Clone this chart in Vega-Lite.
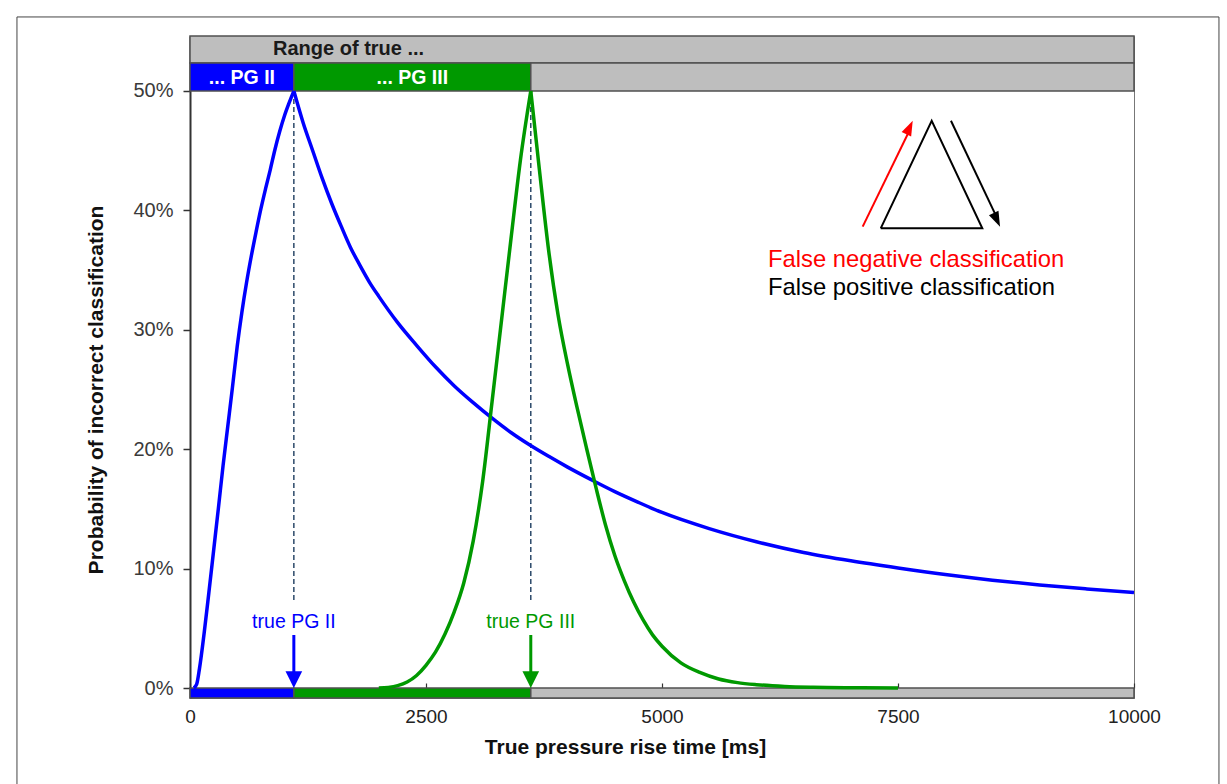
{
  "$schema": "https://vega.github.io/schema/vega-lite/v6.json",
  "width": 944,
  "height": 662,
  "autosize": {"type": "none"},
  "padding": {"left": 190, "top": 36, "right": 93, "bottom": 86},
  "background": "white",
  "config": {
    "view": {"stroke": "#777", "strokeWidth": 1},
    "font": "Liberation Sans",
    "text": {"font": "Liberation Sans"}
  },
  "datasets": {
    "curves": [
      {"group": "PG II", "branch": "rise", "t": 40, "p": 0},
      {"group": "PG II", "branch": "rise", "t": 70, "p": 0.3},
      {"group": "PG II", "branch": "rise", "t": 100, "p": 1.6},
      {"group": "PG II", "branch": "rise", "t": 150, "p": 4.6},
      {"group": "PG II", "branch": "rise", "t": 200, "p": 8.0},
      {"group": "PG II", "branch": "rise", "t": 250, "p": 11.5},
      {"group": "PG II", "branch": "rise", "t": 300, "p": 15.0},
      {"group": "PG II", "branch": "rise", "t": 350, "p": 18.6},
      {"group": "PG II", "branch": "rise", "t": 400, "p": 21.9},
      {"group": "PG II", "branch": "rise", "t": 450, "p": 25.2},
      {"group": "PG II", "branch": "rise", "t": 500, "p": 28.6},
      {"group": "PG II", "branch": "rise", "t": 550, "p": 31.5},
      {"group": "PG II", "branch": "rise", "t": 600, "p": 34.0},
      {"group": "PG II", "branch": "rise", "t": 650, "p": 36.2},
      {"group": "PG II", "branch": "rise", "t": 700, "p": 38.2},
      {"group": "PG II", "branch": "rise", "t": 750, "p": 40.1},
      {"group": "PG II", "branch": "rise", "t": 800, "p": 41.8},
      {"group": "PG II", "branch": "rise", "t": 850, "p": 43.4},
      {"group": "PG II", "branch": "rise", "t": 900, "p": 45.1},
      {"group": "PG II", "branch": "rise", "t": 950, "p": 46.6},
      {"group": "PG II", "branch": "rise", "t": 1000, "p": 47.9},
      {"group": "PG II", "branch": "rise", "t": 1050, "p": 49.0},
      {"group": "PG II", "branch": "rise", "t": 1100, "p": 50.0},
      {"group": "PG II", "branch": "fall", "t": 1100, "p": 50.0},
      {"group": "PG II", "branch": "fall", "t": 1200, "p": 47.3},
      {"group": "PG II", "branch": "fall", "t": 1300, "p": 45.0},
      {"group": "PG II", "branch": "fall", "t": 1400, "p": 42.7},
      {"group": "PG II", "branch": "fall", "t": 1500, "p": 40.6},
      {"group": "PG II", "branch": "fall", "t": 1600, "p": 38.7},
      {"group": "PG II", "branch": "fall", "t": 1700, "p": 36.9},
      {"group": "PG II", "branch": "fall", "t": 1800, "p": 35.4},
      {"group": "PG II", "branch": "fall", "t": 1900, "p": 34.0},
      {"group": "PG II", "branch": "fall", "t": 2000, "p": 32.8},
      {"group": "PG II", "branch": "fall", "t": 2200, "p": 30.6},
      {"group": "PG II", "branch": "fall", "t": 2400, "p": 28.7},
      {"group": "PG II", "branch": "fall", "t": 2600, "p": 26.9},
      {"group": "PG II", "branch": "fall", "t": 2800, "p": 25.3},
      {"group": "PG II", "branch": "fall", "t": 3000, "p": 23.9},
      {"group": "PG II", "branch": "fall", "t": 3200, "p": 22.6},
      {"group": "PG II", "branch": "fall", "t": 3400, "p": 21.4},
      {"group": "PG II", "branch": "fall", "t": 3600, "p": 20.35},
      {"group": "PG II", "branch": "fall", "t": 3800, "p": 19.4},
      {"group": "PG II", "branch": "fall", "t": 4000, "p": 18.5},
      {"group": "PG II", "branch": "fall", "t": 4250, "p": 17.45},
      {"group": "PG II", "branch": "fall", "t": 4500, "p": 16.45},
      {"group": "PG II", "branch": "fall", "t": 4750, "p": 15.55},
      {"group": "PG II", "branch": "fall", "t": 5000, "p": 14.7},
      {"group": "PG II", "branch": "fall", "t": 5500, "p": 13.35},
      {"group": "PG II", "branch": "fall", "t": 6000, "p": 12.25},
      {"group": "PG II", "branch": "fall", "t": 6500, "p": 11.35},
      {"group": "PG II", "branch": "fall", "t": 7000, "p": 10.65},
      {"group": "PG II", "branch": "fall", "t": 7500, "p": 10.05},
      {"group": "PG II", "branch": "fall", "t": 8000, "p": 9.5},
      {"group": "PG II", "branch": "fall", "t": 8500, "p": 9.03},
      {"group": "PG II", "branch": "fall", "t": 9000, "p": 8.63},
      {"group": "PG II", "branch": "fall", "t": 9500, "p": 8.3},
      {"group": "PG II", "branch": "fall", "t": 10000, "p": 8.0},
      {"group": "PG III", "branch": "rise", "t": 2000, "p": 0},
      {"group": "PG III", "branch": "rise", "t": 2100, "p": 0.05},
      {"group": "PG III", "branch": "rise", "t": 2200, "p": 0.2},
      {"group": "PG III", "branch": "rise", "t": 2300, "p": 0.5},
      {"group": "PG III", "branch": "rise", "t": 2400, "p": 1.05},
      {"group": "PG III", "branch": "rise", "t": 2500, "p": 1.9},
      {"group": "PG III", "branch": "rise", "t": 2600, "p": 3.0},
      {"group": "PG III", "branch": "rise", "t": 2700, "p": 4.5},
      {"group": "PG III", "branch": "rise", "t": 2800, "p": 6.4},
      {"group": "PG III", "branch": "rise", "t": 2900, "p": 8.8},
      {"group": "PG III", "branch": "rise", "t": 3000, "p": 12.3},
      {"group": "PG III", "branch": "rise", "t": 3100, "p": 17.3},
      {"group": "PG III", "branch": "rise", "t": 3200, "p": 24.0},
      {"group": "PG III", "branch": "rise", "t": 3300, "p": 30.8},
      {"group": "PG III", "branch": "rise", "t": 3400, "p": 37.6},
      {"group": "PG III", "branch": "rise", "t": 3500, "p": 44.2},
      {"group": "PG III", "branch": "rise", "t": 3610, "p": 50.0},
      {"group": "PG III", "branch": "fall", "t": 3610, "p": 50.0},
      {"group": "PG III", "branch": "fall", "t": 3700, "p": 43.5},
      {"group": "PG III", "branch": "fall", "t": 3800, "p": 36.6},
      {"group": "PG III", "branch": "fall", "t": 3900, "p": 31.2},
      {"group": "PG III", "branch": "fall", "t": 4000, "p": 27.1},
      {"group": "PG III", "branch": "fall", "t": 4100, "p": 23.5},
      {"group": "PG III", "branch": "fall", "t": 4200, "p": 20.1},
      {"group": "PG III", "branch": "fall", "t": 4300, "p": 16.8},
      {"group": "PG III", "branch": "fall", "t": 4400, "p": 13.7},
      {"group": "PG III", "branch": "fall", "t": 4500, "p": 11.1},
      {"group": "PG III", "branch": "fall", "t": 4600, "p": 9.0},
      {"group": "PG III", "branch": "fall", "t": 4700, "p": 7.2},
      {"group": "PG III", "branch": "fall", "t": 4800, "p": 5.7},
      {"group": "PG III", "branch": "fall", "t": 4900, "p": 4.45},
      {"group": "PG III", "branch": "fall", "t": 5000, "p": 3.5},
      {"group": "PG III", "branch": "fall", "t": 5200, "p": 2.1},
      {"group": "PG III", "branch": "fall", "t": 5400, "p": 1.3},
      {"group": "PG III", "branch": "fall", "t": 5600, "p": 0.75},
      {"group": "PG III", "branch": "fall", "t": 5800, "p": 0.45},
      {"group": "PG III", "branch": "fall", "t": 6000, "p": 0.28},
      {"group": "PG III", "branch": "fall", "t": 6300, "p": 0.13},
      {"group": "PG III", "branch": "fall", "t": 6600, "p": 0.06},
      {"group": "PG III", "branch": "fall", "t": 7000, "p": 0.02},
      {"group": "PG III", "branch": "fall", "t": 7500, "p": 0}
    ],
    "bands": [
      {"tier": "header", "group": "other", "start": 0, "end": 10000},
      {"tier": "upper", "group": "PG II", "start": 0, "end": 1100},
      {"tier": "upper", "group": "PG III", "start": 1100, "end": 3610},
      {"tier": "upper", "group": "other", "start": 3610, "end": 10000},
      {"tier": "lower", "group": "PG II", "start": 0, "end": 1100},
      {"tier": "lower", "group": "PG III", "start": 1100, "end": 3610},
      {"tier": "lower", "group": "other", "start": 3610, "end": 10000}
    ],
    "bandLabels": [
      {"tier": "header", "text": "Range of true ...", "t": 1680},
      {"tier": "upper", "text": "... PG II", "t": 550},
      {"tier": "upper", "text": "... PG III", "t": 2355}
    ],
    "markers": [
      {"group": "PG II", "t": 1100, "label": "true PG II"},
      {"group": "PG III", "t": 3610, "label": "true PG III"}
    ],
    "triangle": [
      {"k": 0, "t": 7317, "p": 38.5},
      {"k": 1, "t": 7857, "p": 47.51},
      {"k": 2, "t": 8393, "p": 38.5},
      {"k": 3, "t": 7317, "p": 38.5}
    ]
  },
  "layer": [
    {
      "data": {"values": [{}]},
      "mark": {"type": "rect", "fill": null, "fillOpacity": 0, "stroke": "#444", "strokeWidth": 1},
      "encoding": {
        "x": {"datum": -1833, "type": "quantitative"},
        "x2": {"datum": 10900},
        "y": {"datum": 56.2, "type": "quantitative"},
        "y2": {"datum": -9}
      }
    },
    {
      "data": {"name": "bands"},
      "transform": [{"filter": "datum.tier === 'header'"}],
      "mark": {"type": "rect", "stroke": "#505050", "strokeWidth": 1.5},
      "encoding": {
        "x": {"field": "start", "type": "quantitative"},
        "x2": {"field": "end"},
        "y": {"datum": 52.34, "type": "quantitative"},
        "y2": {"datum": 54.606},
        "color": {"field": "group", "type": "nominal", "legend": null}
      }
    },
    {
      "data": {"name": "bands"},
      "transform": [{"filter": "datum.tier === 'upper'"}],
      "mark": {"type": "rect", "stroke": "#505050", "strokeWidth": 1.5},
      "encoding": {
        "x": {"field": "start", "type": "quantitative"},
        "x2": {"field": "end"},
        "y": {"datum": 50, "type": "quantitative"},
        "y2": {"datum": 52.34},
        "color": {"field": "group", "type": "nominal", "legend": null}
      }
    },
    {
      "data": {"name": "bands"},
      "transform": [{"filter": "datum.tier === 'lower'"}],
      "mark": {"type": "rect", "stroke": "#505050", "strokeWidth": 1.5},
      "encoding": {
        "x": {"field": "start", "type": "quantitative"},
        "x2": {"field": "end"},
        "y": {"datum": -0.8375, "type": "quantitative"},
        "y2": {"datum": 0},
        "color": {"field": "group", "type": "nominal", "legend": null}
      }
    },
    {
      "data": {"name": "bandLabels"},
      "transform": [{"filter": "datum.tier === 'header'"}],
      "mark": {"type": "text", "fontSize": 20, "fontWeight": "bold", "color": "#1a1a1a", "baseline": "middle", "align": "center"},
      "encoding": {
        "x": {"field": "t", "type": "quantitative"},
        "y": {"datum": 53.52, "type": "quantitative"},
        "text": {"field": "text"}
      }
    },
    {
      "data": {"name": "bandLabels"},
      "transform": [{"filter": "datum.tier === 'upper'"}],
      "mark": {"type": "text", "fontSize": 19.5, "fontWeight": "bold", "color": "white", "baseline": "middle", "align": "center"},
      "encoding": {
        "x": {"field": "t", "type": "quantitative"},
        "y": {"datum": 51.09, "type": "quantitative"},
        "text": {"field": "text"}
      }
    },
    {
      "data": {"name": "markers"},
      "mark": {"type": "rule", "color": "#2c4a6a", "strokeWidth": 1.5, "strokeDash": [5, 3]},
      "encoding": {
        "x": {"field": "t", "type": "quantitative"},
        "y": {"datum": 50, "type": "quantitative"},
        "y2": {"datum": 7.2}
      }
    },
    {
      "data": {"name": "curves"},
      "mark": {"type": "line", "strokeWidth": 3.5, "strokeJoin": "round", "interpolate": "monotone"},
      "encoding": {
        "x": {
          "field": "t",
          "type": "quantitative",
          "scale": {"domain": [0, 10000], "nice": false, "zero": false},
          "axis": {
            "title": "True pressure rise time [ms]",
            "values": [0, 2500, 5000, 7500, 10000],
            "format": "d",
            "offset": -15,
            "domain": false,
            "grid": false,
            "tickSize": 5,
            "tickColor": "#333",
            "tickWidth": 1.2,
            "labelPadding": 19,
            "labelFontSize": 19,
            "labelColor": "#222",
            "labelFlush": false,
            "labelOverlap": false,
            "labelBound": false,
            "titleFontSize": 21,
            "titleFontWeight": "bold",
            "titleColor": "#111",
            "titleX": 435,
            "titleY": 64,
            "titleAlign": "center",
            "titleBaseline": "middle"
          }
        },
        "y": {
          "field": "p",
          "type": "quantitative",
          "scale": {"domain": [-0.8375, 54.606], "nice": false, "zero": false},
          "axis": {
            "title": "Probability of incorrect classification",
            "values": [0, 10, 20, 30, 40, 50],
            "labelExpr": "datum.value + '%'",
            "grid": false,
            "domainColor": "#333",
            "domainWidth": 2,
            "tickSize": 7,
            "tickColor": "#333",
            "tickWidth": 1.5,
            "labelPadding": 10,
            "labelFontSize": 20,
            "labelColor": "#3a3a3a",
            "titleFontSize": 21,
            "titleFontWeight": "bold",
            "titleColor": "#111",
            "titleX": -94,
            "titleY": 353.5,
            "titleAngle": -90,
            "titleAlign": "center",
            "titleBaseline": "middle"
          }
        },
        "color": {
          "field": "group",
          "type": "nominal",
          "scale": {"domain": ["PG II", "PG III", "other"], "range": ["#0000ff", "#009900", "#bebebe"]},
          "legend": null
        },
        "detail": {"field": "branch"}
      }
    },
    {
      "data": {"name": "markers"},
      "mark": {"type": "text", "fontSize": 19.5, "baseline": "middle", "align": "center"},
      "encoding": {
        "x": {"field": "t", "type": "quantitative"},
        "y": {"datum": 5.55, "type": "quantitative"},
        "text": {"field": "label"},
        "color": {"field": "group", "type": "nominal", "legend": null}
      }
    },
    {
      "data": {"name": "markers"},
      "mark": {"type": "rule", "strokeWidth": 3},
      "encoding": {
        "x": {"field": "t", "type": "quantitative"},
        "y": {"datum": 4.44, "type": "quantitative"},
        "y2": {"datum": 1.2},
        "color": {"field": "group", "type": "nominal", "legend": null}
      }
    },
    {
      "data": {"name": "markers"},
      "mark": {"type": "point", "shape": "M0,0L-0.5,-1L0.5,-1Z", "filled": true, "size": 1115, "opacity": 1},
      "encoding": {
        "x": {"field": "t", "type": "quantitative"},
        "y": {"datum": 0, "type": "quantitative"},
        "color": {"field": "group", "type": "nominal", "legend": null}
      }
    },
    {
      "data": {"name": "triangle"},
      "mark": {"type": "line", "color": "black", "strokeWidth": 2, "strokeJoin": "miter"},
      "encoding": {
        "x": {"field": "t", "type": "quantitative"},
        "y": {"field": "p", "type": "quantitative"},
        "order": {"field": "k"}
      }
    },
    {
      "data": {"values": [{}]},
      "mark": {"type": "rule", "color": "#ff0000", "strokeWidth": 2},
      "encoding": {
        "x": {"datum": 7126, "type": "quantitative"},
        "y": {"datum": 38.64, "type": "quantitative"},
        "x2": {"datum": 7610},
        "y2": {"datum": 46.5}
      }
    },
    {
      "data": {"values": [{}]},
      "mark": {"type": "point", "shape": "M0,0L-0.35,1L0.35,1Z", "filled": true, "size": 900, "angle": 25, "opacity": 1, "color": "#ff0000"},
      "encoding": {
        "x": {"datum": 7656, "type": "quantitative"},
        "y": {"datum": 47.51, "type": "quantitative"}
      }
    },
    {
      "data": {"values": [{}]},
      "mark": {"type": "rule", "color": "black", "strokeWidth": 2},
      "encoding": {
        "x": {"datum": 8061, "type": "quantitative"},
        "y": {"datum": 47.51, "type": "quantitative"},
        "x2": {"datum": 8535},
        "y2": {"datum": 39.6}
      }
    },
    {
      "data": {"values": [{}]},
      "mark": {"type": "point", "shape": "M0,0L-0.35,1L0.35,1Z", "filled": true, "size": 900, "angle": 155, "opacity": 1, "color": "black"},
      "encoding": {
        "x": {"datum": 8581, "type": "quantitative"},
        "y": {"datum": 38.64, "type": "quantitative"}
      }
    },
    {
      "data": {"values": [{}]},
      "mark": {"type": "text", "text": "False negative classification", "fontSize": 23.8, "color": "#ff0000", "align": "left", "baseline": "middle"},
      "encoding": {
        "x": {"datum": 6123, "type": "quantitative"},
        "y": {"datum": 35.85, "type": "quantitative"}
      }
    },
    {
      "data": {"values": [{}]},
      "mark": {"type": "text", "text": "False positive classification", "fontSize": 23.8, "color": "black", "align": "left", "baseline": "middle"},
      "encoding": {
        "x": {"datum": 6123, "type": "quantitative"},
        "y": {"datum": 33.48, "type": "quantitative"}
      }
    }
  ]
}
